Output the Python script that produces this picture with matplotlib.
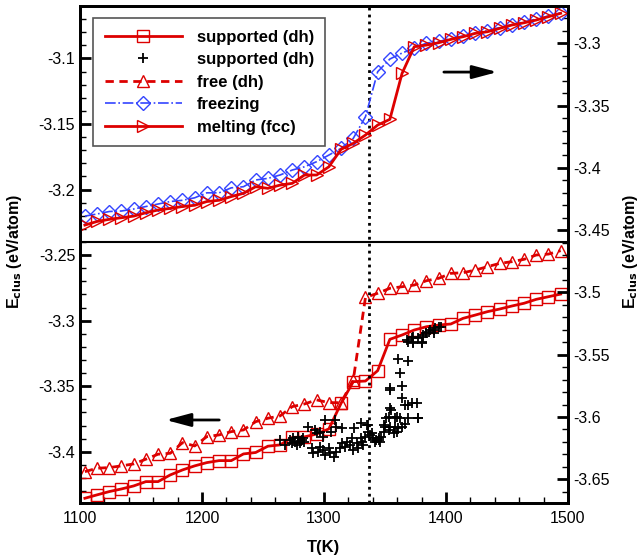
import matplotlib
matplotlib.use('Agg')
import matplotlib.pyplot as plt
from matplotlib.ticker import MultipleLocator, FuncFormatter

plt.rcParams['font.family'] = ['Liberation Sans', 'DejaVu Sans']
plt.rcParams['axes.unicode_minus'] = False

# temperatures of the marked points (K)
temps = [1104, 1114, 1124, 1134, 1144, 1154, 1164, 1174, 1184, 1194,
         1204, 1214, 1224, 1234, 1244, 1254, 1264, 1274, 1284, 1294,
         1304, 1314, 1324, 1334, 1344, 1354, 1364, 1374, 1384, 1394,
         1404, 1414, 1424, 1434, 1444, 1454, 1464, 1474, 1484, 1494]

# bottom curves (left axis)
supported_dh = [-3.4354, -3.4328, -3.4303, -3.4283, -3.4260, -3.4227, -3.4227, -3.4176, -3.4138, -3.4107,
                -3.4082, -3.4067, -3.4067, -3.4016, -3.4005, -3.3957, -3.3947, -3.3890, -3.3886, -3.3864,
                -3.3825, -3.3630, -3.3465, -3.3460, -3.3381, -3.3142, -3.3109, -3.3071, -3.3046, -3.3033,
                -3.3025, -3.2982, -3.2957, -3.2931, -3.2911, -3.2888, -3.2867, -3.2837, -3.2817, -3.2797]
free_dh = [-3.4151, -3.4125, -3.4120, -3.4107, -3.4092, -3.4056, -3.4018, -3.4011, -3.3930, -3.3955,
           -3.3884, -3.3871, -3.3846, -3.3833, -3.3770, -3.3744, -3.3726, -3.3655, -3.3635, -3.3604,
           -3.3625, -3.3625, -3.3452, -3.2822, -3.2791, -3.2753, -3.2741, -3.2728, -3.2695, -3.2677,
           -3.2639, -3.2634, -3.2614, -3.2588, -3.2563, -3.2550, -3.2532, -3.2499, -3.2492, -3.2466]

# scattered supported (dh) data (left axis)
scatter_t = [1264, 1268, 1272, 1274, 1275, 1276, 1278, 1279, 1280, 1282, 1283, 1284,
             1287, 1293, 1294, 1297, 1299, 1301, 1306, 1309, 1310, 1315,
             1290, 1291, 1295, 1297, 1299, 1301, 1304, 1305, 1308, 1310, 1313, 1315,
             1317, 1319, 1321, 1323, 1324, 1325, 1327, 1328, 1330, 1331, 1332, 1334,
             1335, 1336, 1338, 1339, 1340, 1342, 1343, 1345, 1346, 1347, 1349, 1350,
             1351, 1353, 1354, 1355, 1357, 1358, 1360, 1361, 1362, 1364, 1369, 1377,
             1372, 1376, 1369, 1366, 1364, 1354, 1364, 1362, 1361, 1369, 1369, 1373,
             1380, 1372, 1377, 1381, 1384, 1386, 1368, 1373, 1373, 1380, 1381, 1387,
             1390, 1391, 1394, 1396, 1390, 1330, 1345, 1354, 1377, 1354, 1360, 1353,
             1349, 1358, 1366, 1336]
scatter_e = [-3.3910, -3.3947, -3.3909, -3.3934, -3.3896, -3.3922, -3.3947, -3.3884, -3.3934, -3.3909, -3.3896, -3.3922,
             -3.3808, -3.3833, -3.3858, -3.3846, -3.3884, -3.3757, -3.3846, -3.3757, -3.3808, -3.3820,
             -3.3973, -3.4011, -3.3998, -3.3960, -3.3985, -3.4024, -3.3973, -3.4011, -3.4037, -3.3998, -3.3973, -3.3934,
             -3.3960, -3.3922, -3.3947, -3.3896, -3.3985, -3.3820, -3.3934, -3.3973, -3.3896, -3.3922, -3.3947, -3.3884,
             -3.3795, -3.3846, -3.3871, -3.3858, -3.3896, -3.3922, -3.3909, -3.3896, -3.3922, -3.3884, -3.3846, -3.3808,
             -3.3744, -3.3833, -3.3808, -3.3681, -3.3858, -3.3744, -3.3846, -3.3820, -3.3744, -3.3808, -3.3744, -3.3744,
             -3.3630, -3.3630, -3.3643, -3.3643, -3.3591, -3.3528, -3.3498, -3.3396, -3.3294, -3.3305, -3.3160, -3.3160,
             -3.3160, -3.3134, -3.3134, -3.3109, -3.3096, -3.3084, -3.3147, -3.3122, -3.3168, -3.3168, -3.3122, -3.3071,
             -3.3096, -3.3058, -3.3046, -3.3046, -3.3071, -3.3782, -3.3909, -3.3515, -3.3744, -3.3668, -3.3732, -3.3732,
             -3.3795, -3.3808, -3.3790, -3.3795]

# top curves (right axis)
freezing = [-3.4387, -3.4370, -3.4350, -3.4346, -3.4330, -3.4310, -3.4290, -3.4270, -3.4260, -3.4240,
            -3.4200, -3.4200, -3.4160, -3.4151, -3.4097, -3.4084, -3.4057, -3.4017, -3.3991, -3.3950,
            -3.3897, -3.3843, -3.3763, -3.3589, -3.3228, -3.3126, -3.3078, -3.3038, -3.2998, -3.2985,
            -3.2962, -3.2940, -3.2918, -3.2898, -3.2873, -3.2850, -3.2828, -3.2805, -3.2780, -3.2755]
melting = [-3.4459, -3.4430, -3.4413, -3.4400, -3.4387, -3.4360, -3.4338, -3.4325, -3.4310, -3.4300,
           -3.4270, -3.4260, -3.4230, -3.4204, -3.4151, -3.4164, -3.4138, -3.4124, -3.4057, -3.4057,
           -3.3991, -3.3851, -3.3803, -3.3736, -3.3656, -3.3610, -3.3241, -3.3027, -3.3014, -3.2995,
           -3.2968, -3.2947, -3.2920, -3.2907, -3.2880, -3.2853, -3.2835, -3.2813, -3.2786, -3.2759]

t_melt = 1337
e_divider = -3.24

red = '#dd0000'
blue = '#3344ff'

fig = plt.figure(figsize=(6.42, 5.58), dpi=100)
ax = fig.add_axes([0.1246, 0.0986, 0.7601, 0.8907])
ax2 = ax.twinx()

h1, = ax.plot(temps, supported_dh, color=red, lw=2, marker='s', ms=8, mfc='none',
              mec=red, mew=1, label='supported (dh)')
h2, = ax.plot(scatter_t, scatter_e, ls='none', marker='+', ms=7, mew=1.3, color='black',
              label='supported (dh)')
h3, = ax.plot(temps, free_dh, color=red, lw=2, ls=(0, (3, 2)), marker='^', ms=9, mfc='none',
              mec=red, mew=1, label='free (dh)')
ax.axhline(e_divider, color='black', lw=1.5)
ax.axvline(t_melt, color='black', lw=2, ls=(0, (1, 1.5)))

h4, = ax2.plot(temps, freezing, color=blue, lw=1.2, ls='-.', marker='D', ms=7, mfc='none',
               mec=blue, mew=1, label='freezing')
h5, = ax2.plot(temps, melting, color=red, lw=2, marker='>', ms=9, mfc='none',
               mec=red, mew=1, label='melting (fcc)')

ax.set_xlim(1100, 1500)
ax.set_ylim(-3.439, -3.060)
ax2.set_ylim(-3.669, -3.270)

fmt = FuncFormatter(lambda v, p: f'{v:g}')
ax.xaxis.set_major_locator(MultipleLocator(100))
ax.xaxis.set_minor_locator(MultipleLocator(20))
ax.yaxis.set_major_locator(MultipleLocator(0.05))
ax.yaxis.set_minor_locator(MultipleLocator(0.01))
ax2.yaxis.set_major_locator(MultipleLocator(0.05))
ax2.yaxis.set_minor_locator(MultipleLocator(0.01))
ax.yaxis.set_major_formatter(fmt)
ax2.yaxis.set_major_formatter(fmt)

for a in (ax, ax2):
    a.tick_params(which='major', direction='in', length=8, width=2, labelsize=11.5)
    a.tick_params(which='minor', direction='in', length=4.5, width=1)
    for s in a.spines.values():
        s.set_linewidth(2)
ax.tick_params(top=False, right=False, which='both')
ax.tick_params(axis='x', pad=6)

ax.set_xlabel('T(K)', fontsize=12, fontweight='bold')
ax.xaxis.set_label_coords(0.5, -0.075)
ax.set_ylabel(r'E$_{\mathbf{clus}}$ (eV/atom)', fontsize=11.5, fontweight='bold')
ax.yaxis.set_label_coords(-0.115, 0.505)
ax2.set_ylabel(r'E$_{\mathbf{clus}}$ (eV/atom)', fontsize=11.5, fontweight='bold', rotation=90)
ax2.yaxis.set_label_coords(1.108, 0.505)

# direction arrows
ax2.annotate('', xy=(0.861, 0.867), xytext=(0.740, 0.867), xycoords='axes fraction',
             arrowprops=dict(arrowstyle='-|>,head_length=1.5,head_width=0.4', color='black', lw=2))
ax2.annotate('', xy=(0.170, 0.167), xytext=(0.291, 0.167), xycoords='axes fraction',
             arrowprops=dict(arrowstyle='-|>,head_length=1.5,head_width=0.4', color='black', lw=2))

leg = ax2.legend(handles=[h1, h2, h3, h4, h5], loc='upper left', bbox_to_anchor=(0.027, 0.976),
                 borderaxespad=0, fancybox=False, framealpha=1, edgecolor='#555555',
                 prop={'weight': 'bold', 'size': 12}, handlelength=4.6, labelspacing=0.45,
                 borderpad=0.7, handletextpad=0.9)
leg.get_frame().set_linewidth(1.2)

fig.savefig('out.png', dpi=100)
